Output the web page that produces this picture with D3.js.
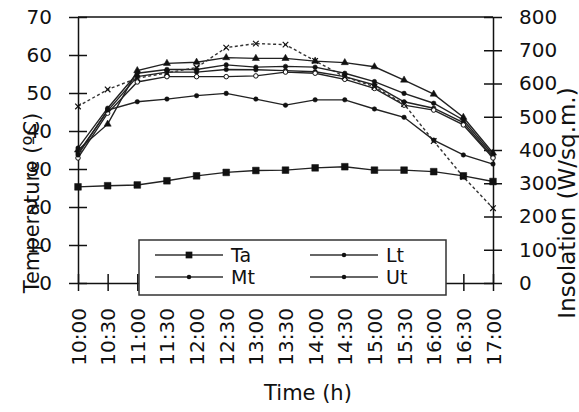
<!DOCTYPE html>
<html>
<head>
<meta charset="utf-8">
<title>Temperature and insolation</title>
<script src="https://cdn.jsdelivr.net/npm/d3@7"></script>
<style>
  body { margin: 0; background: #fff; }
  svg text { font-family: "DejaVu Sans", sans-serif; fill: #111; }
</style>
</head>
<body>
<svg id="chart" width="579" height="412"></svg>
<script>
// data
var times = ["10:00","10:30","11:00","11:30","12:00","12:30","13:00","13:30","14:00","14:30","15:00","15:30","16:00","16:30","17:00"];
var ta = [25.3, 25.6, 25.8, 26.9, 28.2, 29.1, 29.6, 29.7, 30.3, 30.6, 29.7, 29.7, 29.3, 28.2, 26.7];
var lt = [33.7, 45.5, 47.7, 48.4, 49.3, 49.9, 48.4, 46.8, 48.2, 48.2, 45.8, 43.6, 37.6, 33.7, 31.3];
var mt = [35.5, 46.0, 55.2, 56.2, 56.2, 57.4, 56.8, 57.0, 56.8, 55.2, 53.0, 49.9, 47.3, 42.9, 33.7];
var ut = [34.2, 45.3, 54.3, 55.5, 55.5, 56.2, 56.1, 55.9, 55.6, 54.3, 52.1, 47.7, 46.0, 42.2, 33.2];
var tw = [32.9, 44.7, 52.9, 54.3, 54.3, 54.3, 54.5, 55.5, 55.2, 53.6, 51.2, 46.8, 45.5, 41.6, 32.9];
var tp = [35.0, 41.8, 55.9, 57.8, 58.1, 59.3, 59.1, 59.1, 58.4, 58.0, 56.9, 53.4, 49.7, 43.6, 34.2];
var insolation = [531, 582, 616, 632, 648, 708, 720, 717, 668, 620, 590, 538, 427, 319, 225];

var tempTicks = [0, 10, 20, 30, 40, 50, 60, 70];
var insTicks = [0, 100, 200, 300, 400, 500, 600, 700, 800];
var legendNames = ["Ta", "Lt", "Mt", "Ut"];

var svg = d3.select("#chart");
var pLeft = 78, pRight = 493, pTop = 17, pBottom = 283;

var x = d3.scalePoint().domain(times).range([pLeft, pRight]);
var yT = d3.scaleLinear().domain([0, 70]).range([pBottom, pTop]);
var yI = d3.scaleLinear().domain([0, 800]).range([pBottom, pTop]);

// frame top line
svg.append("line").attr("x1", pLeft).attr("x2", pRight).attr("y1", pTop).attr("y2", pTop)
  .attr("stroke", "#111").attr("stroke-width", 1.5);

// axes, ticks crossing the line
var gl = svg.append("g").attr("transform", "translate(" + pLeft + ",0)")
  .call(d3.axisLeft(yT).tickValues(tempTicks).tickSize(9).tickPadding(17).tickSizeOuter(0));
gl.selectAll(".tick line").attr("x2", -9).attr("x1", 9);
var gr = svg.append("g").attr("transform", "translate(" + pRight + ",0)")
  .call(d3.axisRight(yI).tickValues(insTicks).tickSize(9).tickPadding(17).tickSizeOuter(0));
gr.selectAll(".tick line").attr("x1", -9).attr("x2", 9);
var gb = svg.append("g").attr("transform", "translate(0," + pBottom + ")")
  .call(d3.axisBottom(x).tickSize(8).tickPadding(0).tickSizeOuter(0));
gb.selectAll(".tick line").attr("y1", -9).attr("y2", 8);
gb.selectAll(".tick text")
  .attr("transform", "rotate(-90)")
  .attr("text-anchor", "end")
  .attr("x", -25).attr("y", 0).attr("dy", "0.35em");

[gl, gr, gb].forEach(function(g){
  g.select(".domain").attr("stroke", "#111").attr("stroke-width", 1.5);
  g.selectAll(".tick line").attr("stroke", "#111").attr("stroke-width", 1.5);
  g.selectAll(".tick text").style("font-size", "20px").attr("fill", "#111");
});

// lines
var lineT = d3.line().x(function(d, i){ return x(times[i]); }).y(function(d){ return yT(d); });
var lineI = d3.line().x(function(d, i){ return x(times[i]); }).y(function(d){ return yI(d); });

var series = [
  {v: tp, m: "tri"}, {v: mt, m: "dot"}, {v: ut, m: "dot"},
  {v: tw, m: "circ"}, {v: lt, m: "dot"}, {v: ta, m: "sq"}
];
series.forEach(function(s){
  svg.append("path").attr("d", lineT(s.v)).attr("fill", "none")
    .attr("stroke", "#222").attr("stroke-width", 1.4);
  var sym = s.m == "sq" ? d3.symbol().type(d3.symbolSquare).size(45)
          : s.m == "tri" ? d3.symbol().type(d3.symbolTriangle).size(22)
          : d3.symbol().type(d3.symbolCircle).size(16);
  svg.selectAll(null).data(s.v).enter().append("path")
    .attr("d", sym)
    .attr("transform", function(d, i){ return "translate(" + x(times[i]) + "," + yT(d) + ")"; })
    .attr("fill", s.m == "circ" ? "#fff" : "#111")
    .attr("stroke", "#111").attr("stroke-width", s.m == "circ" ? 1 : 0.5);
});

svg.append("path").attr("d", lineI(insolation)).attr("fill", "none")
  .attr("stroke", "#333").attr("stroke-width", 1.4).attr("stroke-dasharray", "3,2.5");
svg.selectAll(null).data(insolation).enter().append("path")
  .attr("d", d3.symbol().type(d3.symbolX).size(22))
  .attr("transform", function(d, i){ return "translate(" + x(times[i]) + "," + yI(d) + ")"; })
  .attr("stroke", "#111").attr("stroke-width", 1.2).attr("fill", "none");

// axis titles
svg.append("text").attr("transform", "translate(32,203) rotate(-90)")
  .attr("text-anchor", "middle").attr("dy", "0.35em").style("font-size", "21px").text("Temperature (ºC)");
svg.append("text").attr("transform", "translate(567,203) rotate(-90)")
  .attr("text-anchor", "middle").attr("dy", "0.35em").style("font-size", "23px").text("Insolation (W/sq.m.)");
svg.append("text").attr("x", 308).attr("y", 400)
  .attr("text-anchor", "middle").style("font-size", "21px").text("Time (h)");

// legend
var lg = svg.append("g");
lg.append("rect").attr("x", 139).attr("y", 240).attr("width", 307).attr("height", 55)
  .attr("fill", "#fff").attr("stroke", "#333").attr("stroke-width", 1.5);
var legPos = [[155, 255], [310, 255], [155, 277], [310, 277]];
legendNames.forEach(function(n, i){
  var p = legPos[i];
  lg.append("line").attr("x1", p[0]).attr("x2", p[0] + 68).attr("y1", p[1]).attr("y2", p[1])
    .attr("stroke", "#666").attr("stroke-width", 2);
  lg.append("path")
    .attr("d", d3.symbol().type(i == 0 ? d3.symbolSquare : d3.symbolCircle).size(i == 0 ? 45 : 16))
    .attr("transform", "translate(" + (p[0] + 34) + "," + p[1] + ")")
    .attr("fill", "#111");
  lg.append("text").attr("x", p[0] + 76).attr("y", p[1]).attr("dy", "0.35em")
    .style("font-size", "19px").text(n);
});
</script>
</body>
</html>
